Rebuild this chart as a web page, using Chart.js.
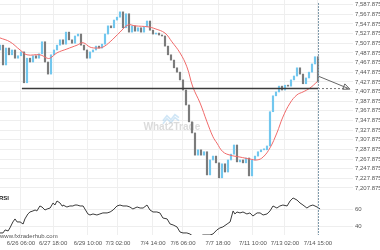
<!DOCTYPE html>
<html>
<head>
<meta charset="utf-8">
<script src="https://cdn.jsdelivr.net/npm/chart.js@4.4.1/dist/chart.umd.min.js"></script>
<style>
  html, body { margin: 0; padding: 0; background: #fff; }
  #wrap { width: 380px; height: 250px; }
</style>
</head>
<body>
<div id="wrap"><canvas id="chart" width="380" height="250"></canvas></div>
<script>
// Candle closes, one per bar (bar index = position on the time axis)
const closes = [
  7504, 7463, 7498, 7484, 7494, 7477, 7482, 7490, 7426, 7477,
  7469, 7482, 7477, 7486, 7511, 7469, 7444, 7484, 7494, 7504,
  7515, 7506, 7531, 7515, 7508, 7523, 7527, 7504, 7494, 7477,
  7490, 7494, 7502, 7498, 7506, 7527, 7544, 7540, 7556, 7562,
  7573, 7540, 7569, 7531, 7544, 7533, 7540, 7531, 7542, 7554,
  7535, 7527, 7529, 7525, 7523, 7502, 7484, 7473, 7457, 7448,
  7432, 7411, 7380, 7345, 7322, 7276, 7287, 7276, 7283, 7235,
  7266, 7274, 7260, 7229, 7258, 7241, 7266, 7278, 7297, 7262,
  7266, 7260, 7270, 7233, 7266, 7274, 7283, 7287, 7287, 7295,
  7366, 7399, 7407, 7419, 7411, 7421, 7419, 7432, 7440, 7457,
  7444, 7424, 7436, 7448, 7465, 7480, 7428
];
const firstOpen = 7494;

// Moving average (red)
const maIndex = [0, 3.3, 6.7, 9, 13.3, 15.7, 16.7, 19, 22.3, 25.7, 27.7, 30, 32.3, 34.3, 36.7,
  40, 42.7, 45, 49.3, 51.7, 55, 57.3, 60, 62.3, 64.3, 66.7, 69, 71, 72.3, 74.3,
  76.7, 80, 83.3, 85.7, 87.7, 90, 92.3, 94.3, 96.7, 99, 101, 103.3, 105.7];
const maValues = [7519, 7511, 7494, 7484, 7484, 7477, 7477, 7488, 7496, 7504, 7509, 7500, 7498, 7500, 7511,
  7531, 7546, 7544, 7542, 7538, 7529, 7511, 7488, 7459, 7417, 7384, 7345, 7314, 7301, 7283,
  7276, 7272, 7268, 7266, 7272, 7291, 7322, 7355, 7384, 7401, 7407, 7415, 7428];

// RSI panel
const rsiIndex = [0, 1, 1.7, 2.7, 3.3, 4.3, 5, 5.7, 6.7, 7.7,
  8.3, 9.3, 10, 11, 11.7, 12.3, 13.3, 14, 15, 15.7,
  16.7, 17.7, 18.3, 19, 20, 20.7, 21, 22.3, 23.3, 24.3,
  25, 25.7, 26.7, 27.7, 28.3, 29.3, 30, 31, 32.3, 33.3,
  34.3, 35.7, 36.7, 37.7, 39, 40, 41, 42.3, 43.3, 44.3,
  45.7, 46.7, 47.7, 49, 50, 51, 52.3, 53.3, 54.3, 55.7,
  56.7, 57.7, 59, 60, 61, 62.3, 63.3, 64.3, 65.7, 66.7,
  67.7, 69, 70, 71, 72.3, 73.3, 74.3, 75.7, 76.7, 77.7,
  78.3, 79, 80, 81, 82.3, 83.3, 84.3, 85.7, 86.7, 87.7,
  89, 90, 91, 92.3, 93.3, 94.3, 95.7, 96.7, 97.7, 99,
  100, 101, 102.3, 103.3, 104.3, 105.7, 106.7];
const rsiValues = [32.7, 32.7, 36.2, 35, 38.5, 45.5, 49, 45.5, 45.5, 43.1,
  49, 54.8, 57.1, 58.3, 59.4, 58.3, 64.1, 62.9, 59.4, 60.6,
  61.7, 67.6, 65.2, 69.9, 67.6, 64.1, 65.2, 62.9, 64.1, 64.1,
  65.2, 65.2, 64.1, 64.1, 60.6, 54.8, 53.6, 54.8, 53.6, 54.8,
  56, 56, 57.1, 59.4, 64.1, 65.2, 64.1, 64.1, 62.9, 60.6,
  62.9, 61.7, 61.7, 65.2, 59.4, 57.1, 57.1, 56, 50.1, 49,
  43.1, 42, 39.7, 33.8, 32.7, 32.7, 31.5, 29, 28, 29.2,
  30.3, 30.3, 30.3, 31.5, 36.2, 38.5, 39.7, 43.1, 45.5, 58.3,
  54.8, 57.1, 56, 57.1, 54.8, 56, 52.4, 56, 56, 53.6,
  54.8, 58.3, 64.1, 61.7, 64.1, 65.2, 64.1, 69.9, 73.4, 71,
  67.6, 65.2, 61.7, 64.1, 65.2, 62.9, 60.6];

// Support level and projection
const supportLevel = 7414;
const supportStart = 7.3;
const currentBar = 106;
const projectionEnd = 116.2;
const projectionFrom = 7440;

// Axis ticks
const timeTickIndex = [7, 17.7, 29.3, 39.3, 51, 61, 72.7, 84.3, 95, 106];
const timeLabels = ['6/26 06:00', '6/27 18:00', '6/29 10:00', '7/3 02:00', '7/4 14:00',
  '7/6 06:00', '7/7 18:00', '7/11 10:00', '7/13 02:00', '7/14 15:00'];
const priceTicks = [7207.875, 7227.875, 7247.875, 7267.875, 7287.875, 7307.875, 7327.875,
  7347.875, 7367.875, 7387.875, 7407.875, 7427.875, 7447.875, 7467.875, 7487.875,
  7507.875, 7527.875, 7547.875, 7567.875, 7587.875];
const rsiTicks = [40, 60];

const UP = '#72c7ee';
const DOWN = '#7b7b7b';

const candles = closes.map((c, i) => ({ x: i, y: [i === 0 ? firstOpen : closes[i - 1], c] }));
const maPoints = maIndex.map((x, i) => ({ x: x, y: maValues[i] }));
const rsiPoints = rsiIndex.map((x, i) => ({ x: x, y: rsiValues[i] }));

// watermark, "now" line, arrow head, panel caption
const overlay = {
  id: 'overlay',
  beforeDatasetsDraw(chart) {
    const { ctx, scales: { x, y } } = chart;
    const cx = x.getPixelForValue(57.3);
    const cy = y.getPixelForValue(7335);
    ctx.save();
    ctx.strokeStyle = 'rgba(150, 200, 235, 0.45)';
    ctx.lineWidth = 1.6;
    for (const dy of [0, 3]) {
      ctx.beginPath();
      ctx.moveTo(cx - 9, cy - 6 + dy);
      ctx.lineTo(cx - 5, cy - 11 + dy);
      ctx.lineTo(cx - 1, cy - 7 + dy);
      ctx.lineTo(cx + 3, cy - 12 + dy);
      ctx.lineTo(cx + 7, cy - 9 + dy);
      ctx.stroke();
    }
    ctx.font = 'bold 10px "Liberation Sans", Arial, sans-serif';
    ctx.textAlign = 'center';
    ctx.textBaseline = 'middle';
    ctx.fillStyle = 'rgba(190, 190, 190, 0.55)';
    ctx.fillText('What2Trade', cx, cy + 1);
    ctx.restore();
  },
  afterDatasetsDraw(chart) {
    const { ctx, chartArea, scales: { x, y, rsi } } = chart;
    ctx.save();
    // now line
    const nx = Math.round(x.getPixelForValue(currentBar)) + 0.5;
    ctx.strokeStyle = '#7f9aab';
    ctx.lineWidth = 1;
    ctx.setLineDash([2, 1]);
    ctx.beginPath();
    ctx.moveTo(nx, chartArea.top + 3);
    ctx.lineTo(nx, chartArea.bottom);
    ctx.stroke();
    ctx.setLineDash([]);
    // arrow head
    const x0 = x.getPixelForValue(currentBar), y0 = y.getPixelForValue(projectionFrom);
    const x1 = x.getPixelForValue(projectionEnd), y1 = y.getPixelForValue(supportLevel);
    const a = Math.atan2(y1 - y0, x1 - x0);
    ctx.strokeStyle = '#666';
    ctx.beginPath();
    ctx.moveTo(x1 + 1.5 * Math.cos(a), y1 + 1.5 * Math.sin(a));
    ctx.lineTo(x1 - 6 * Math.cos(a - 0.5), y1 - 6 * Math.sin(a - 0.5));
    ctx.lineTo(x1 - 6 * Math.cos(a + 0.5), y1 - 6 * Math.sin(a + 0.5));
    ctx.closePath();
    ctx.stroke();
    // captions
    ctx.fillStyle = '#222';
    ctx.font = 'bold 6px "Liberation Sans", Arial, sans-serif';
    ctx.textBaseline = 'middle';
    ctx.fillText('RSI', -1, rsi.top + 5);
    ctx.fillStyle = '#555';
    ctx.font = '6px "Liberation Sans", Arial, sans-serif';
    ctx.fillText('www.fxtraderhub.com', 0, 236);
    ctx.restore();
  }
};

const tickFont = { family: '"Liberation Sans", Arial, sans-serif', size: 6 };

new Chart(document.getElementById('chart'), {
  type: 'bar',
  data: {
    datasets: [
      {
        label: 'Candles',
        data: candles,
        yAxisID: 'y',
        backgroundColor: (c) => (c.raw && c.raw.y[1] >= c.raw.y[0] ? UP : DOWN),
        barThickness: 1.5,
        minBarLength: 1,
        order: 5
      },
      {
        type: 'line',
        label: 'MA',
        data: maPoints,
        yAxisID: 'y',
        borderColor: '#f06a6a',
        borderWidth: 1,
        pointRadius: 0,
        tension: 0.4,
        order: 4
      },
      {
        type: 'line',
        label: 'Support',
        data: [{ x: supportStart, y: supportLevel }, { x: currentBar, y: supportLevel }],
        yAxisID: 'y',
        borderColor: '#3c3c3c',
        borderWidth: 1.6,
        pointRadius: 0,
        order: 1
      },
      {
        type: 'line',
        label: 'Support ext',
        data: [{ x: currentBar, y: supportLevel }, { x: projectionEnd, y: supportLevel }],
        yAxisID: 'y',
        borderColor: '#777',
        borderWidth: 1,
        borderDash: [2, 2],
        pointRadius: 0,
        order: 2
      },
      {
        type: 'line',
        label: 'Projection',
        data: [{ x: currentBar, y: projectionFrom }, { x: projectionEnd, y: supportLevel }],
        yAxisID: 'y',
        borderColor: '#666',
        borderWidth: 1,
        pointRadius: 0,
        order: 2
      },
      {
        type: 'line',
        label: 'RSI',
        data: rsiPoints,
        yAxisID: 'rsi',
        borderColor: '#3a3a3a',
        borderWidth: 1,
        pointRadius: 0,
        tension: 0,
        order: 3
      }
    ]
  },
  options: {
    responsive: false,
    devicePixelRatio: 1,
    animation: false,
    layout: { padding: 0 },
    plugins: { legend: { display: false }, tooltip: { enabled: false } },
    scales: {
      x: {
        type: 'linear',
        min: 0,
        max: 117.67,
        offset: false,
        grid: { color: '#efefef', drawTicks: false, offset: false },
        border: { display: false },
        afterBuildTicks: (s) => { s.ticks = timeTickIndex.map(v => ({ value: v })); },
        afterFit: (s) => { s.height = 15; s.paddingLeft = 0; s.paddingRight = 0; },
        ticks: {
          autoSkip: false, maxRotation: 0, padding: 5, color: '#555', font: tickFont,
          callback: (v, i) => timeLabels[i]
        }
      },
      y: {
        position: 'right',
        stack: 'panels',
        stackWeight: 193,
        min: 7197.5,
        max: 7597.6,
        grid: { color: '#eeeeee', drawTicks: false },
        border: { display: false },
        afterBuildTicks: (s) => { s.ticks = priceTicks.map(v => ({ value: v })); },
        afterFit: (s) => { s.width = 27; s.paddingTop = 0; s.paddingBottom = 0; },
        ticks: {
          autoSkip: false, padding: 2, color: '#555', font: tickFont,
          callback: (v) => v.toLocaleString('en-US', { minimumFractionDigits: 3, maximumFractionDigits: 3 })
        }
      },
      rsi: {
        position: 'right',
        stack: 'panels',
        stackWeight: 42,
        min: 30.3,
        max: 79.2,
        grid: { color: '#eeeeee', drawTicks: false },
        border: { display: false },
        afterBuildTicks: (s) => { s.ticks = rsiTicks.map(v => ({ value: v })); },
        afterFit: (s) => { s.width = 27; s.paddingTop = 0; s.paddingBottom = 0; },
        ticks: { autoSkip: false, padding: 2, color: '#555', font: tickFont }
      }
    }
  },
  plugins: [overlay]
});
</script>
</body>
</html>
